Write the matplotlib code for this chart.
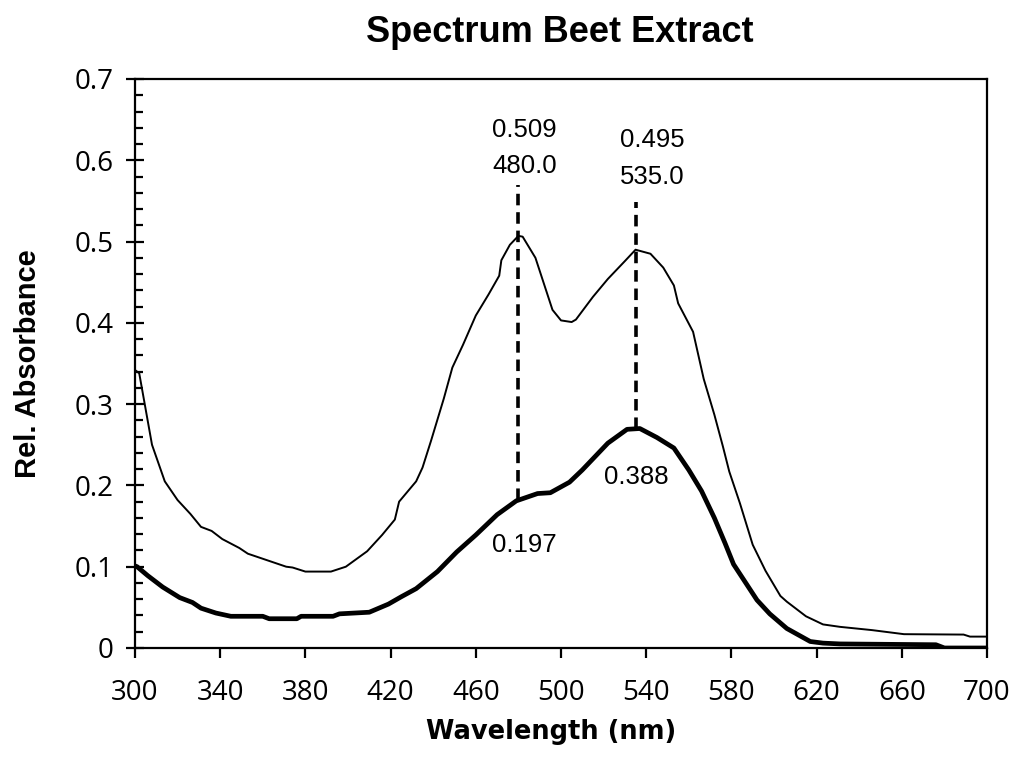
import numpy as np
import matplotlib
matplotlib.use("Agg")
import matplotlib.pyplot as plt
from matplotlib.ticker import MultipleLocator, FuncFormatter

# upper (thin) spectrum
wl_thin = [300, 302, 308, 314, 320, 326, 331, 336, 341, 349,
           353, 362, 371, 374, 380, 392, 399, 409, 416, 422,
           424, 432, 435, 439, 445, 449, 454, 460, 466, 471,
           472, 476, 480, 482, 488, 493, 496, 500, 505, 507,
           515, 522, 530, 535, 542, 548, 553, 555, 562, 567,
           572, 576, 579, 584, 590, 596, 603, 606, 615, 623,
           631, 646, 661, 689, 692, 700]
abs_thin = [0.342, 0.338, 0.250, 0.205, 0.182, 0.165, 0.149, 0.144, 0.134, 0.123,
            0.116, 0.108, 0.100, 0.099, 0.094, 0.094, 0.100, 0.119, 0.139, 0.158,
            0.180, 0.205, 0.222, 0.255, 0.307, 0.345, 0.373, 0.409, 0.435, 0.458,
            0.477, 0.496, 0.507, 0.506, 0.480, 0.440, 0.416, 0.403, 0.401, 0.404,
            0.432, 0.454, 0.476, 0.490, 0.485, 0.468, 0.446, 0.424, 0.389, 0.331,
            0.287, 0.248, 0.217, 0.178, 0.127, 0.095, 0.064, 0.057, 0.039, 0.029,
            0.026, 0.022, 0.017, 0.0165, 0.014, 0.014]

# lower (thick) spectrum
wl_thick = [300, 301, 306, 313, 321, 327, 331, 338, 345, 360,
            363, 376, 378, 393, 396, 410, 419, 425, 432, 442,
            451, 460, 470, 479, 489, 495, 504, 510, 522, 531,
            537, 545, 553, 560, 566, 572, 577, 581, 592, 598,
            606, 617, 623, 631, 676, 680, 700]
abs_thick = [0.101, 0.100, 0.089, 0.075, 0.062, 0.056, 0.049, 0.043, 0.039, 0.039,
             0.036, 0.036, 0.039, 0.039, 0.042, 0.044, 0.054, 0.063, 0.073, 0.094,
             0.118, 0.139, 0.164, 0.181, 0.190, 0.191, 0.204, 0.219, 0.252, 0.269,
             0.270, 0.259, 0.246, 0.219, 0.193, 0.160, 0.129, 0.103, 0.059, 0.042,
             0.024, 0.008, 0.006, 0.005, 0.004, 0.0, 0.0]

peak_wl = [480, 535]
peak_top = [0.570, 0.549]
peak_labels_upper = ["0.509\n480.0", "0.495\n535.0"]
peak_labels_lower = ["0.197", "0.388"]

fig = plt.figure(figsize=(10.24, 7.61), dpi=100)
ax = fig.add_axes([0.1318, 0.1485, 0.8321, 0.7477])

ax.plot(wl_thin, abs_thin, color="black", lw=1.4)
ax.plot(wl_thick, abs_thick, color="black", lw=3.4, solid_joinstyle="round")

# dashed markers from the label down to the lower curve
bottoms = np.interp(peak_wl, wl_thick, abs_thick)
for x, top, b in zip(peak_wl, peak_top, bottoms):
    ax.plot([x, x], [b, top], color="black", lw=2.6, dashes=(3.2, 1.9))

ann = dict(ha="center", va="center", fontsize=18.5, family="Liberation Sans")
ax.text(483, 0.615, peak_labels_upper[0], linespacing=1.65, **ann)
ax.text(542.8, 0.602, peak_labels_upper[1], linespacing=1.65, **ann)
ax.text(483, 0.127, peak_labels_lower[0], **ann)
ax.text(535.2, 0.210, peak_labels_lower[1], **ann)

ax.set_xlim(300, 700)
ax.set_ylim(0, 0.7)
ax.set_xticks(np.arange(300, 701, 40))
ax.yaxis.set_major_locator(MultipleLocator(0.1))
ax.yaxis.set_minor_locator(MultipleLocator(0.02))
ax.yaxis.set_major_formatter(FuncFormatter(lambda v, p: "0" if abs(v) < 1e-9 else f"{v:.1f}"))

for s in ax.spines.values():
    s.set_linewidth(1.6)

ax.tick_params(axis="x", direction="out", length=7, width=1.6, pad=15,
               labelsize=20, labelfontfamily="Open Sans")
ax.tick_params(axis="y", which="major", direction="inout", length=13,
               width=1.6, pad=9, labelsize=20, labelfontfamily="Open Sans")
ax.tick_params(axis="y", which="minor", direction="in", length=5.5, width=1.6)

ax.set_xlabel("Wavelength (nm)", fontsize=18.5, fontweight="bold",
              family="DejaVu Sans")
ax.xaxis.set_label_coords(0.488, -0.124)
ax.set_ylabel("Rel. Absorbance", fontsize=21, fontweight="bold",
              family="Liberation Sans")
ax.yaxis.set_label_coords(-0.109, 0.5)
fig.text(0.547, 0.957, "Spectrum Beet Extract", ha="center", va="center",
         fontsize=26, fontweight="bold", family="Liberation Sans")

fig.savefig("out.png", dpi=100)
